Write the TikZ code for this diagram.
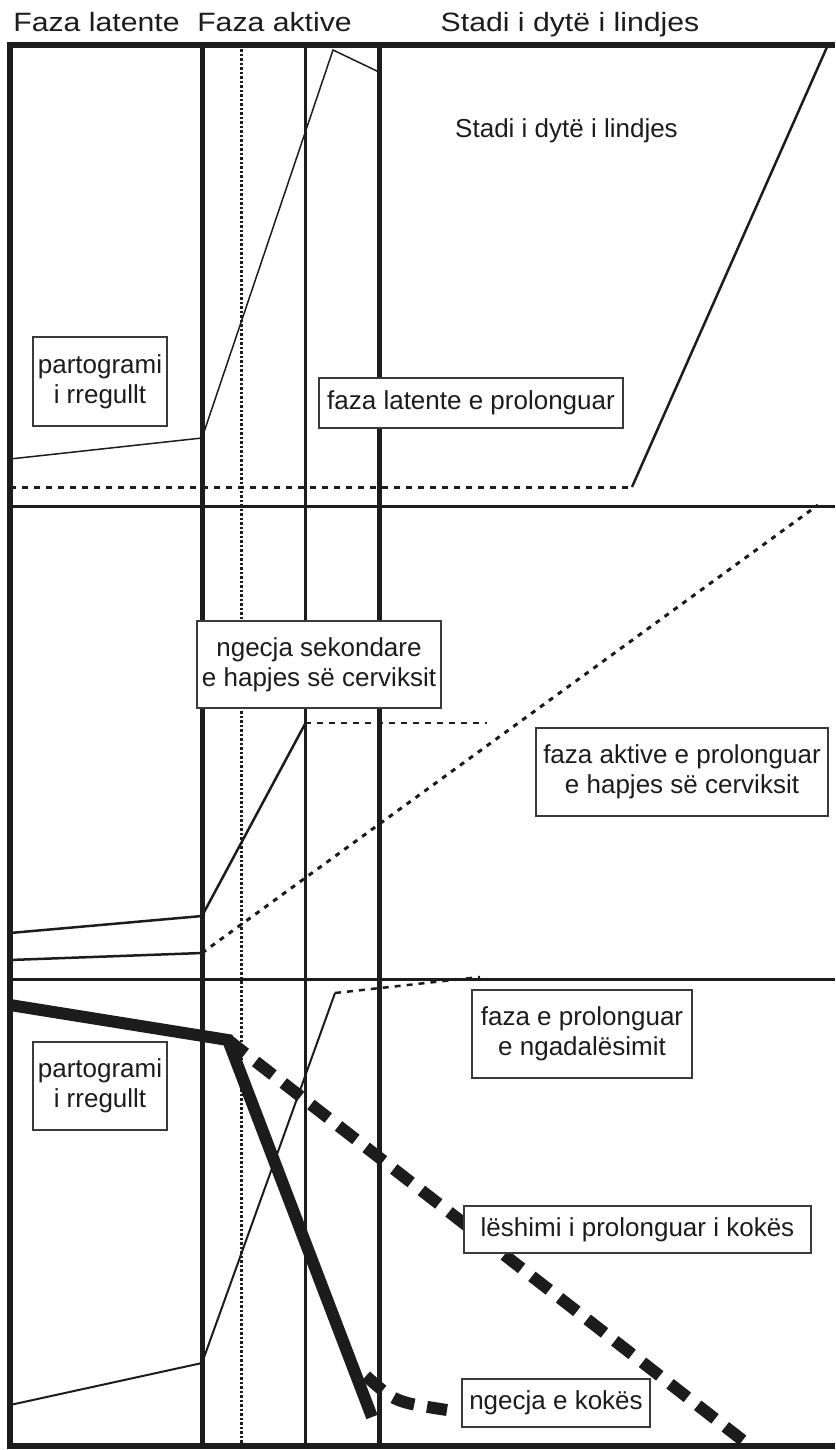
\documentclass[tikz,border=0pt]{standalone}
\usepackage{fontspec}
\setmainfont{Liberation Sans}
\newfontfamily\headfont{Liberation Sans}[FakeStretch=1.14]
\usetikzlibrary{positioning}
\definecolor{ink}{HTML}{1C1C1C}
\definecolor{boxline}{HTML}{3A3A3A}

\begin{document}
\begin{tikzpicture}[
    x=1pt, y=-1pt,
    every node/.style={font=\fontsize{26}{30}\selectfont, text=ink},
    head/.style={font=\headfont\fontsize{26.5}{30}\selectfont, anchor=base},
    lbl/.style={draw=boxline, line width=1.3pt, fill=white, align=center, inner sep=0pt},
    frame/.style={draw=ink, line width=6pt},
    phase/.style={draw=ink, line width=5pt},
    grid/.style={draw=ink, line width=3pt},
    thin/.style={draw=ink, line width=1.5pt},
    curve/.style={draw=ink, line width=2.5pt},
    finedash/.style={draw=ink, line width=3pt, dash pattern=on 6pt off 6pt},
    heavy/.style={draw=ink, line width=12pt},
    heavydash/.style={draw=ink, line width=12pt, dash pattern=on 22pt off 13pt}
]
\useasboundingbox (0,0) rectangle (835,1450);

% headings
\node[head] (hlat) at (96.5,32) {Faza latente};
\node[head] (hakt) at (274.5,32) {Faza aktive};
\node[head] (hsec) at (570,32) {Stadi i dytë i lindjes};

% frame and phase lines
\draw[frame] (835,45) -- (10,45) -- (10,1446) -- (835,1446);
\draw[phase] (202,45) -- (202,1446);
\draw[phase] (379,45) -- (379,1446);
\draw[grid] (305,45) -- (305,1446);
\draw[ink, line width=3pt, dash pattern=on 2.5pt off 2pt] (241,45) -- (241,1446);
\draw[grid] (10,506) -- (835,506);
\draw[grid] (10,979) -- (835,979);

% upper part
\draw[thin] (10,459) -- (202,438) -- (333,50) -- (379,72);
\draw[finedash] (10,487) -- (632,487);
\draw[curve] (632,487) -- (827,47);

% middle part
\draw[curve] (10,933) -- (202,916) -- (305,724);
\draw[finedash, line width=2.5pt] (305,723) -- (487,723);
\draw[curve] (10,960) -- (202,953);
\draw[finedash, dash pattern=on 5pt off 6pt] (202,953) -- (818,505);

% lower part
\draw[thin, line width=2pt] (10,1405) -- (202,1363) -- (335,993);
\draw[finedash, line width=2.5pt] (335,993) -- (480,977);
\draw[heavy] (10,1005) -- (228,1040) -- (372,1417);
\draw[heavydash] (228,1040) -- (750,1446);
\draw[heavydash] (366,1376) .. controls (395,1402) .. (447,1410);

% labels
\node (sec) [anchor=base] at (566.5,138) {Stadi i dytë i lindjes};
\node[lbl, minimum width=134pt, minimum height=89pt] (reg1) at (100,381.5) {partogrami\\i rregullt};
\node[lbl, minimum width=304pt, minimum height=50pt] (latpro) at (471,403) {faza latente e prolonguar};
\node[lbl, minimum width=244pt, minimum height=87pt] (arrest) at (319,664.5) {ngecja sekondare\\e hapjes së cerviksit};
\node[lbl, minimum width=292pt, minimum height=88pt] (actpro) at (682,772) {faza aktive e prolonguar\\e hapjes së cerviksit};
\node[lbl, minimum width=220pt, minimum height=88pt] (decel) at (582,1034) {faza e prolonguar\\e ngadalësimit};
\node[lbl, minimum width=134pt, minimum height=88pt] (reg2) at (100,1086) {partogrami\\i rregullt};
\node[lbl, minimum width=347pt, minimum height=47pt] (descent) at (637.5,1229.5) {lëshimi i prolonguar i kokës};
\node[lbl, minimum width=188pt, minimum height=48pt] (headarr) at (556,1403) {ngecja e kokës};

\end{tikzpicture}
\end{document}
